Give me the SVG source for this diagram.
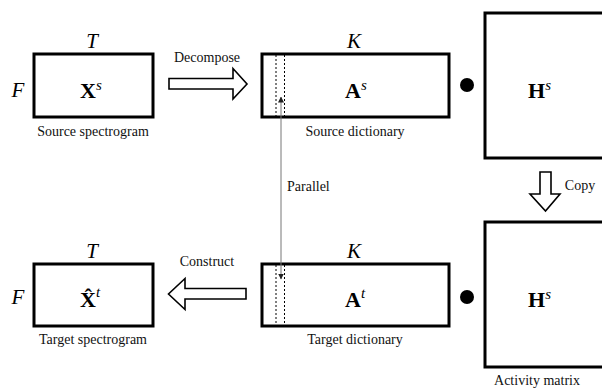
<svg xmlns="http://www.w3.org/2000/svg" width="602" height="389" viewBox="0 0 602 389">
  <defs>
    <style>
      .box { fill: none; stroke: #000; stroke-width: 3; }
      .dash { stroke: #000; stroke-width: 1; stroke-dasharray: 2 2; }
      .big { fill: #fff; stroke: #000; stroke-width: 1.6; stroke-linejoin: miter; }
      .lbl { font-family: "Liberation Serif", "Times New Roman", serif; font-size: 14px; fill: #111; text-anchor: middle; }
      .dim { font-family: "Liberation Serif", "Times New Roman", serif; font-size: 21px; font-style: italic; fill: #000; text-anchor: middle; }
      .mat { font-family: "Liberation Serif", "Times New Roman", serif; font-size: 22px; font-weight: bold; fill: #000; }
      .sup { font-family: "Liberation Serif", "Times New Roman", serif; font-size: 15px; font-style: italic; font-weight: normal; }
    </style>
    <marker id="tip" viewBox="0 0 6 6" refX="5.5" refY="3" markerWidth="6" markerHeight="6" orient="auto" markerUnits="userSpaceOnUse">
      <path d="M0,0 L6,3 L0,6 z" fill="#222"/>
    </marker>
  </defs>

  <!-- Source spectrogram -->
  <g id="source-spectrogram">
    <rect class="box" x="34" y="54" width="119" height="63"/>
    <text class="dim" x="92" y="48">T</text>
    <text class="dim" x="18" y="97">F</text>
    <text class="mat" x="80" y="98">X<tspan class="sup" dy="-8">s</tspan></text>
    <text class="lbl" x="93" y="136">Source spectrogram</text>
  </g>

  <!-- Source dictionary -->
  <g id="source-dictionary">
    <rect class="box" x="262" y="54" width="187" height="63"/>
    <line class="dash" x1="276" y1="55" x2="276" y2="116"/>
    <line class="dash" x1="284.5" y1="55" x2="284.5" y2="116"/>
    <text class="dim" x="354" y="48">K</text>
    <text class="mat" x="345" y="98">A<tspan class="sup" dy="-8">s</tspan></text>
    <text class="lbl" x="355" y="136">Source dictionary</text>
  </g>

  <!-- Source activity -->
  <g id="source-activity">
    <circle cx="467" cy="85" r="7"/>
    <rect class="box" x="485" y="13" width="130" height="145"/>
    <text class="mat" x="528" y="98">H<tspan class="sup" dy="-8">s</tspan></text>
  </g>

  <!-- Target spectrogram -->
  <g id="target-spectrogram">
    <rect class="box" x="34" y="264" width="119" height="62"/>
    <text class="dim" x="92" y="258">T</text>
    <text class="dim" x="18" y="304">F</text>
    <text class="mat" x="80" y="307">X&#x302;<tspan class="sup" dy="-10">t</tspan></text>
    <text class="lbl" x="93" y="344">Target spectrogram</text>
  </g>

  <!-- Target dictionary -->
  <g id="target-dictionary">
    <rect class="box" x="262" y="264" width="187" height="62"/>
    <line class="dash" x1="276" y1="265" x2="276" y2="325"/>
    <line class="dash" x1="284.5" y1="265" x2="284.5" y2="325"/>
    <text class="dim" x="354" y="258">K</text>
    <text class="mat" x="345" y="307">A<tspan class="sup" dy="-9">t</tspan></text>
    <text class="lbl" x="355" y="344">Target dictionary</text>
  </g>

  <!-- Target activity -->
  <g id="target-activity">
    <circle cx="467" cy="297" r="7"/>
    <rect class="box" x="485" y="222" width="130" height="145"/>
    <text class="mat" x="528" y="307">H<tspan class="sup" dy="-8">s</tspan></text>
    <text class="lbl" x="537" y="385">Activity matrix</text>
  </g>

  <!-- Connectors -->
  <g id="connectors">
    <!-- Decompose -->
    <path class="big" d="M169,78.5 L233,78.5 L233,68.5 L247,84 L233,99 L233,89 L169,89 Z"/>
    <text class="lbl" x="207" y="62">Decompose</text>
    <!-- Construct -->
    <path class="big" d="M246,288.5 L185,288.5 L185,278.5 L168.5,294 L185,309.5 L185,299 L246,299 Z"/>
    <text class="lbl" x="207" y="266">Construct</text>
    <!-- Copy -->
    <path class="big" d="M540,172 L551,172 L551,194 L560,194 L545.5,211 L530,194 L540,194 Z"/>
    <text class="lbl" x="580" y="190">Copy</text>
    <!-- Parallel -->
    <line x1="281" y1="186" x2="281" y2="97" stroke="#777" stroke-width="1" marker-end="url(#tip)"/>
    <line x1="281" y1="186" x2="281" y2="279" stroke="#777" stroke-width="1" marker-end="url(#tip)"/>
    <text class="lbl" x="287" y="191" style="text-anchor:start">Parallel</text>
  </g>
</svg>
